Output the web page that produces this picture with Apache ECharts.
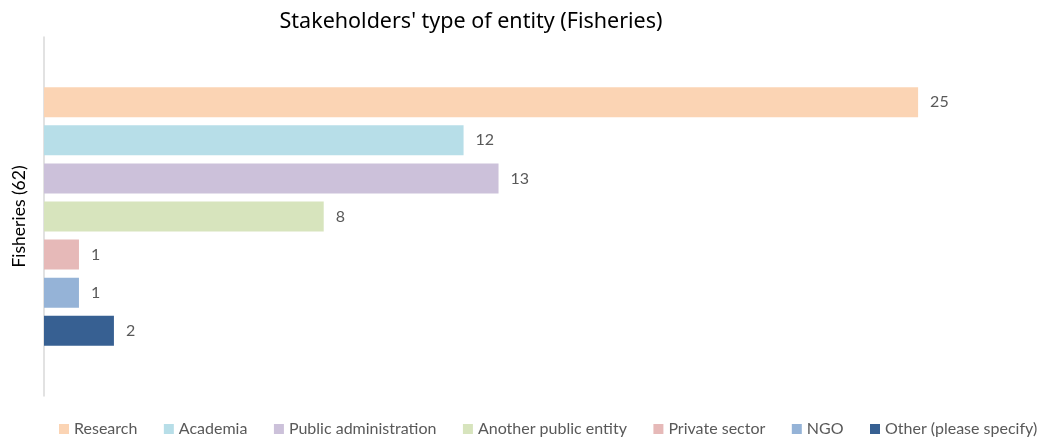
<!DOCTYPE html>
<html>
<head>
<meta charset="utf-8">
<style>
  html, body { margin: 0; padding: 0; background: #ffffff; }
  #chart { width: 1039px; height: 438px; }
</style>
<script src="https://cdn.jsdelivr.net/npm/echarts@6/dist/echarts.min.js"></script>
</head>
<body>
<div id="chart"></div>
<script>
// Stakeholders by type of entity, one group of bars for Fisheries
const categories = ['Fisheries (62)'];
const seriesNames = ['Research', 'Academia', 'Public administration', 'Another public entity', 'Private sector', 'NGO', 'Other (please specify)'];
const seriesValues = [[25], [12], [13], [8], [1], [1], [2]];
const seriesColors = ['#FBD4B4', '#B7DEE8', '#CCC1DA', '#D7E4BD', '#E6B9B8', '#95B3D7', '#376092'];

const chart = echarts.init(document.getElementById('chart'));

const series = seriesNames.map((name, i) => ({
  name: name,
  type: 'bar',
  data: seriesValues[i],
  itemStyle: { color: seriesColors[i] },
  barGap: '27%',
  barCategoryGap: '28%',
  label: {
    show: true,
    position: 'right',
    distance: 12,
    color: '#595959',
    fontSize: 16,
    fontFamily: 'Lato'
  }
}));

chart.setOption({
  animation: false,
  title: {
    text: "Stakeholders' type of entity (Fisheries)",
    left: 466,
    textAlign: 'center',
    top: 6,
    textStyle: { fontSize: 21.5, fontWeight: 'normal', color: '#000000', fontFamily: 'Noto Sans' }
  },
  legend: {
    bottom: 1,
    left: 59,
    width: 980,
    padding: 0,
    itemWidth: 10,
    itemHeight: 10,
    itemGap: 26.5,
    icon: 'rect',
    textStyle: { fontSize: 16, color: '#595959', fontFamily: 'Lato' },
    data: seriesNames
  },
  grid: { left: 44, right: 16, top: 37, bottom: 42, containLabel: false },
  xAxis: {
    type: 'value',
    min: 0,
    max: 28,
    show: false
  },
  yAxis: {
    type: 'category',
    data: categories,
    inverse: true,
    axisTick: { show: false },
    axisLine: { show: true, lineStyle: { color: '#D9D9D9', width: 1.5 } },
    axisLabel: {
      rotate: 90,
      margin: 16,
      color: '#000000',
      fontSize: 17.5,
      fontFamily: 'Lato'
    }
  },
  series: series
});
</script>
</body>
</html>
